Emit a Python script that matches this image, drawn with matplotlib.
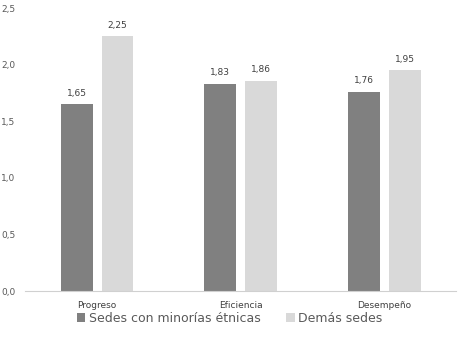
import matplotlib.pyplot as plt
import numpy as np

categories = ['Progreso', 'Eficiencia', 'Desempeño']
minorias = [1.65, 1.83, 1.76]
demas = [2.25, 1.86, 1.95]
series_names = ['Sedes con minorías étnicas', 'Demás sedes']
yticks = [0.0, 0.5, 1.0, 1.5, 2.0, 2.5]

plt.rcParams['font.family'] = ['DejaVu Sans']
fig = plt.figure(figsize=(4.62, 3.38), dpi=100)
ax = fig.add_axes([0.055, 0.139, 0.932, 0.837])

x = np.arange(len(categories))
w = 0.222
off = 0.142
b1 = ax.bar(x - off, minorias, w, color='#808080', label=series_names[0])
b2 = ax.bar(x + off, demas, w, color='#d9d9d9', label=series_names[1])

fmt = lambda v: f'{v:.2f}'.replace('.', ',')
for bars, vals in ((b1, minorias), (b2, demas)):
    for r, v in zip(bars, vals):
        ax.text(r.get_x() + r.get_width() / 2, v + 0.06, fmt(v),
                ha='center', va='bottom', fontsize=6.5, color='#404040')

ax.set_xlim(-0.5, 2.5)
ax.set_ylim(0, 2.5)
ax.set_xticks(x)
ax.set_xticklabels(categories, fontsize=6.5, color='#404040')
ax.set_yticks(yticks)
ax.set_yticklabels([f'{t:.1f}'.replace('.', ',') for t in yticks], fontsize=6.5, color='#595959')
ax.tick_params(axis='x', length=0, pad=7)
ax.tick_params(axis='y', length=0, pad=7)
for s in ['top', 'right', 'left']:
    ax.spines[s].set_visible(False)
ax.spines['bottom'].set_color('#d0d0d0')

fig.legend(handles=[b1, b2], labels=series_names, loc='center', bbox_to_anchor=(0.497, 0.058),
           ncol=2, frameon=False, fontsize=9, handlelength=0.7, handleheight=0.7,
           handletextpad=0.3, columnspacing=2.0, labelcolor='#595959')

fig.savefig('out.png', dpi=100)
